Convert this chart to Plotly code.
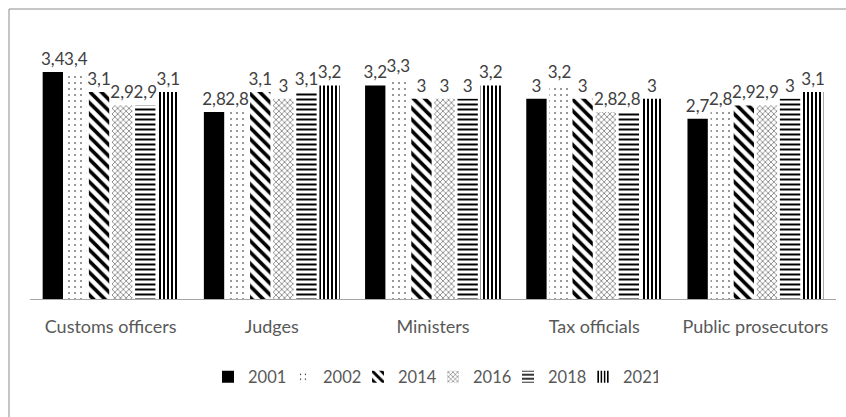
import plotly.graph_objects as go

categories = ["Customs officers", "Judges", "Ministers", "Tax officials", "Public prosecutors"]
years = ["2001", "2002", "2014", "2016", "2018", "2021"]
v2001 = [3.4, 2.8, 3.2, 3.0, 2.7]
v2002 = [3.4, 2.8, 3.3, 3.2, 2.8]
v2014 = [3.1, 3.1, 3.0, 3.0, 2.9]
v2016 = [2.9, 3.0, 3.0, 2.8, 2.9]
v2018 = [2.9, 3.1, 3.0, 2.8, 3.0]
v2021 = [3.1, 3.2, 3.2, 3.0, 3.1]
series = [v2001, v2002, v2014, v2016, v2018, v2021]

patterns = [
    dict(shape=""),
    dict(shape=".", size=6, solidity=0.05, fgcolor="black", bgcolor="white", fillmode="replace"),
    dict(shape="\\", size=8, solidity=0.45, fgcolor="black", bgcolor="white", fillmode="replace"),
    dict(shape="x", size=4, solidity=0.2, fgcolor="black", bgcolor="white", fillmode="replace"),
    dict(shape="-", size=5, solidity=0.4, fgcolor="black", bgcolor="white", fillmode="replace"),
    dict(shape="|", size=4, solidity=0.5, fgcolor="black", bgcolor="white", fillmode="replace"),
]

fig = go.Figure()
for name, vals, pat in zip(years, series, patterns):
    fig.add_trace(go.Bar(
        name=name, x=categories, y=vals,
        marker=dict(color="black" if name == "2001" else "white", pattern=pat,
                    line=dict(width=0)),
        texttemplate="%{y}", textposition="outside", constraintext="none",
        textfont=dict(family="Lato", size=17, color="#404040"),
        cliponaxis=False,
    ))

W, H = 846, 417
L, R, T, B = 30, 10, 32, 118
pw, ph = W - L - R, H - T - B

def px(x):
    return (x - L) / pw

def py(y):
    return (H - B - y) / ph

fig.update_layout(
    width=W, height=H,
    margin=dict(l=L, r=R, t=T, b=B, autoexpand=False),
    barmode="group", bargap=0.14, bargroupgap=0.12,
    separators=",.",
    paper_bgcolor="white", plot_bgcolor="white",
    font=dict(family="Lato", size=16, color="#595959"),
    showlegend=True,
    legend=dict(orientation="h", x=0.5, xanchor="center", y=py(377), yanchor="middle",
                font=dict(family="Lato", size=16.5, color="#595959"), itemwidth=30,
                entrywidth=30, entrywidthmode="pixels", traceorder="normal"),
    xaxis=dict(showline=True, linecolor="#a6a6a6", linewidth=1, ticks="",
               ticklabelstandoff=11, tickfont=dict(family="Lato", size=18, color="#595959")),
    yaxis=dict(range=[0, 4], visible=False, showgrid=False, zeroline=False),
    shapes=[
        dict(type="line", xref="paper", yref="paper", x0=px(9), x1=px(850), y0=py(9), y1=py(9),
             line=dict(color="#8c8c8c", width=1)),
        dict(type="line", xref="paper", yref="paper", x0=px(9), x1=px(9), y0=py(9), y1=py(420),
             line=dict(color="#8c8c8c", width=1)),
    ],
)
fig.write_html("out.html", config={"displayModeBar": False},
               post_script="document.body.style.margin='0px';document.body.style.overflow='hidden';")
